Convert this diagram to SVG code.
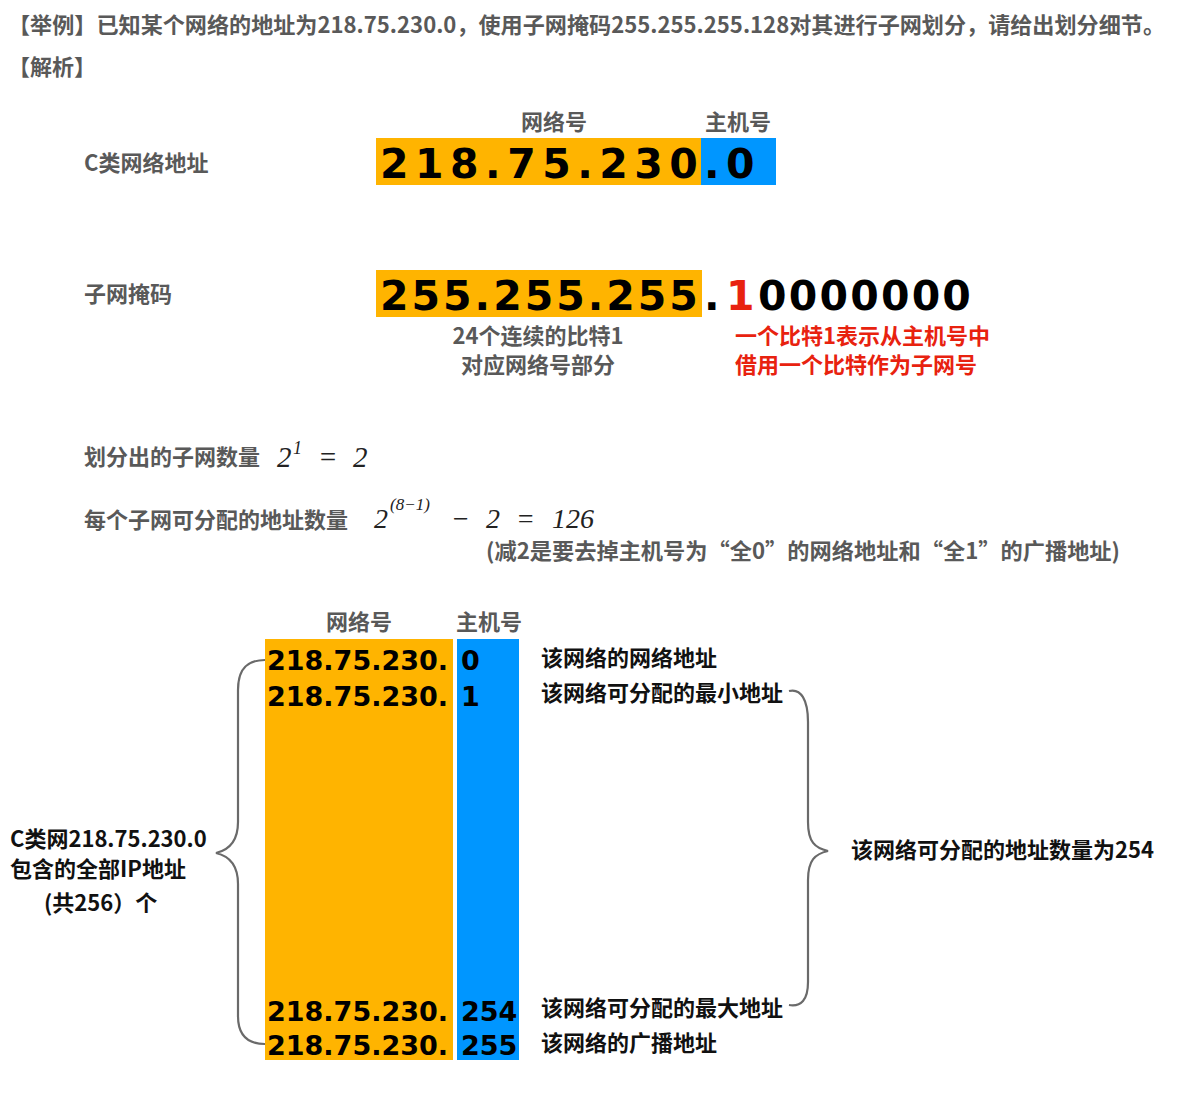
<svg xmlns="http://www.w3.org/2000/svg" width="1197" height="1096" viewBox="0 0 1197 1096">
<style>
.cn{font-family:"Noto Sans CJK SC","Liberation Sans",sans-serif;font-weight:bold;font-size:22px}
.g{fill:#595959}
.k{fill:#111}
.r{fill:#e8220f}
.big{font-family:"DejaVu Sans","Liberation Sans",sans-serif;font-weight:bold;font-size:41px;fill:#000}
.mid{font-family:"DejaVu Sans","Liberation Sans",sans-serif;font-weight:bold;font-size:27px;fill:#000}
.m{font-family:"Liberation Serif","Times New Roman",serif;font-style:italic;fill:#222}
.or{fill:#FFB400}
.bl{fill:#0096FF}
.brace{fill:none;stroke:#6a6a6a;stroke-width:2.2}
</style>
<rect width="1197" height="1096" fill="#fff"/>
<g id="title">
<text class="cn g" x="8" y="33" textLength="1157" lengthAdjust="spacingAndGlyphs">【举例】已知某个网络的地址为218.75.230.0，使用子网掩码255.255.255.128对其进行子网划分，请给出划分细节。</text>
<text class="cn g" x="8" y="75">【解析】</text>
</g>
<g id="classC">
<text class="cn g" x="84" y="171">C类网络地址</text>
<text class="cn g" x="554" y="130" text-anchor="middle">网络号</text>
<text class="cn g" x="738" y="130" text-anchor="middle">主机号</text>
<rect class="or" x="376" y="138" width="325" height="47"/>
<rect class="bl" x="701" y="138" width="75" height="47"/>
<text class="big" x="380" y="178" letter-spacing="6.5">218.75.230</text>
<text class="big" x="704" y="178" letter-spacing="6.5">.0</text>
</g>
<g id="mask">
<text class="cn g" x="84" y="302">子网掩码</text>
<rect class="or" x="376" y="270" width="326" height="47"/>
<text class="big" x="380" y="310" letter-spacing="3">255.255.255</text>
<text class="big" x="704" y="310">.</text>
<text class="big" x="726" y="310" style="fill:#e8220f">1</text>
<text class="big" x="758" y="310" letter-spacing="2.2">0000000</text>
<text class="cn g" x="538" y="344" text-anchor="middle">24个连续的比特1</text>
<text class="cn g" x="538" y="373" text-anchor="middle">对应网络号部分</text>
<text class="cn r" x="735" y="344">一个比特1表示从主机号中</text>
<text class="cn r" x="735" y="373">借用一个比特作为子网号</text>
</g>
<g id="subnets">
<text class="cn g" x="84" y="465">划分出的子网数量</text>
<text class="m" x="277" y="467" font-size="29">2</text>
<text class="m" x="293" y="454" font-size="18">1</text>
<text class="m" x="318" y="467" font-size="29" font-style="normal">=</text>
<text class="m" x="353" y="467" font-size="29">2</text>
</g>
<g id="hosts">
<text class="cn g" x="84" y="528">每个子网可分配的地址数量</text>
<text class="m" x="374" y="528" font-size="28">2</text>
<text class="m" x="390" y="510" font-size="17">(8−1)</text>
<text class="m" x="451" y="528" font-size="28" font-style="normal">−</text>
<text class="m" x="486" y="528" font-size="28">2</text>
<text class="m" x="516" y="528" font-size="28" font-style="normal">=</text>
<text class="m" x="552" y="528" font-size="28">126</text>
<text class="cn g" x="486" y="559" textLength="634" lengthAdjust="spacingAndGlyphs">(减2是要去掉主机号为“全0”的网络地址和“全1”的广播地址)</text>
</g>
<g id="table">
<text class="cn g" x="359" y="630" text-anchor="middle">网络号</text>
<text class="cn g" x="489" y="630" text-anchor="middle">主机号</text>
<rect class="or" x="265" y="639" width="188" height="421"/>
<rect class="bl" x="457" y="639" width="62" height="421"/>
<text class="mid" x="267" y="670">218.75.230.</text>
<text class="mid" x="461" y="670">0</text>
<text class="mid" x="267" y="706">218.75.230.</text>
<text class="mid" x="461" y="706">1</text>
<text class="mid" x="267" y="1021">218.75.230.</text>
<text class="mid" x="461" y="1021">254</text>
<text class="mid" x="267" y="1055">218.75.230.</text>
<text class="mid" x="461" y="1055">255</text>
</g>
<g id="row-labels">
<text class="cn k" x="541" y="666">该网络的网络地址</text>
<text class="cn k" x="541" y="701">该网络可分配的最小地址</text>
<text class="cn k" x="541" y="1016">该网络可分配的最大地址</text>
<text class="cn k" x="541" y="1051">该网络的广播地址</text>
</g>
<g id="left-label">
<text class="cn k" x="10" y="847">C类网218.75.230.0</text>
<text class="cn k" x="10" y="877">包含的全部IP地址</text>
<text class="cn k" x="44" y="911">(共256）个</text>
</g>
<g id="right-label">
<text class="cn k" x="851" y="858">该网络可分配的地址数量为254</text>
</g>
<g id="connectors">
<path class="brace" d="M265 660 C250 660 238 666 238 690 L238 822 C238 842 229 850 216 853 C229 856 238 864 238 884 L238 1016 C238 1038 250 1044 265 1044"/>
<path class="brace" d="M789 691 C801 688 808 700 808 722 L808 822 C808 842 815 848 828 851 C815 854 808 860 808 880 L808 982 C808 1000 801 1007 789 1005"/>
</g>
</svg>
